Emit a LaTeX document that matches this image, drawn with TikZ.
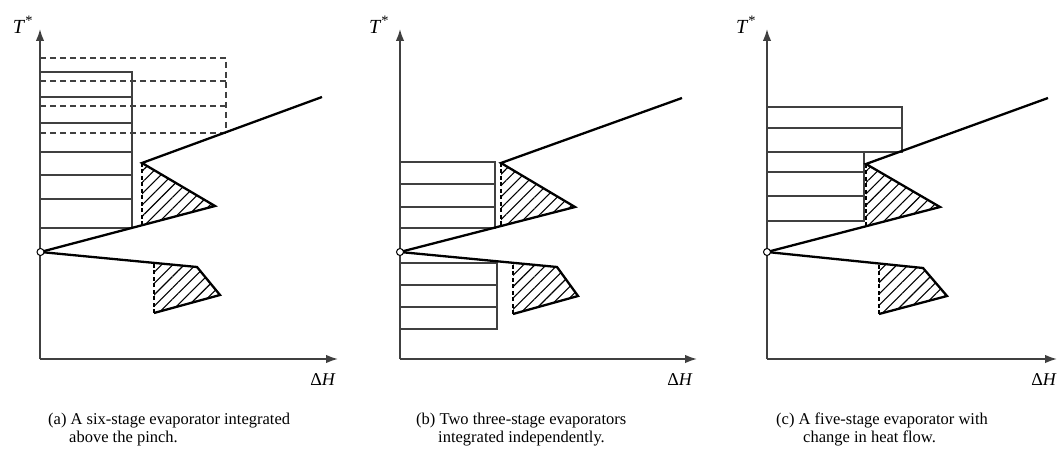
\documentclass[tikz,border=0pt]{standalone}
\usepackage{fontspec}
\setmainfont{Liberation Serif}
\usetikzlibrary{arrows.meta,patterns.meta}
\begin{document}
\begin{tikzpicture}[x=1pt,y=-1pt,
  axis/.style={line width=1.6pt, draw=black!75, -{Latex[length=12pt,width=8.5pt]}},
  stage/.style={line width=1.3pt, draw=black!75},
  dstage/.style={line width=1.3pt, draw=black!75, dash pattern=on 6pt off 4pt},
  curve/.style={line width=2.3pt, line join=miter},
  hatch/.style={pattern={Lines[angle=45,distance=8pt,line width=1.1pt]}},
  hatchedge/.style={line width=1.1pt, dash pattern=on 4pt off 2.5pt},
  pinch/.style={circle, draw, fill=white, inner sep=0pt, minimum size=7pt, line width=1pt},
  lbl/.style={font=\fontsize{18}{21}\selectfont, inner sep=0pt},
  tlbl/.style={font=\fontsize{20}{23}\selectfont, inner sep=0pt},
  captext/.style={font=\fontsize{16.5}{19}\selectfont, anchor=base west, inner sep=0pt}
]
\useasboundingbox (0,0) rectangle (1057,449);

% ---------------- panel (a)
\coordinate (oa) at (40,359);
\coordinate (pa) at (40.5,252);
\draw[axis] (oa) -- (40,29);
\draw[axis] (oa) -- (338,359);
\node[tlbl] (ta) at (23,25) {\textit{T}\textsuperscript{\Large *}};
\node[lbl] (ha) at (323,380) {Δ\textit{H}};
\draw[stage] (40,72) rectangle (132,228);
\foreach \y in {97,123,152,175,199} \draw[stage] (40,\y) -- (132,\y);
\draw[dstage] (40,58) -- (226,58) -- (226,133);
\foreach \y in {81,106,133} \draw[dstage] (40,\y) -- (226,\y);
\fill[hatch] (142,163) -- (215,206) -- (142,225.3) -- cycle;
\draw[hatchedge] (142,163) -- (142,225.3);
\draw[curve] (pa) -- (215,206) -- (142,163) -- (322,97);
\fill[hatch] (154,262.9) -- (197,267) -- (220,295) -- (154,313) -- cycle;
\draw[hatchedge] (154,313) -- (154,262.9);
\draw[curve] (pa) -- (197,267) -- (220,295) -- (154,313);
\node[pinch] (pna) at (pa) {};
\node[captext] (ca1) at (48,424) {(a) A six-stage evaporator integrated};
\node[captext] (ca2) at (69,442) {above the pinch.};

% ---------------- panel (b)
\coordinate (ob) at (400,359);
\coordinate (pb) at (400,252);
\draw[axis] (ob) -- (400,29);
\draw[axis] (ob) -- (697,359);
\node[tlbl] (tb) at (379,25) {\textit{T}\textsuperscript{\Large *}};
\node[lbl] (hb) at (680,380) {Δ\textit{H}};
\draw[stage] (400,162) rectangle (495,228);
\foreach \y in {184,207} \draw[stage] (400,\y) -- (495,\y);
\draw[stage] (400,263) rectangle (497,329);
\foreach \y in {285,307} \draw[stage] (400,\y) -- (497,\y);
\fill[hatch] (501,163) -- (575,207) -- (501,226.1) -- cycle;
\draw[hatchedge] (501,163) -- (501,226.1);
\draw[curve] (pb) -- (575,207) -- (501,163) -- (682,98);
\fill[hatch] (513,262.8) -- (557,267) -- (578,296) -- (513,314) -- cycle;
\draw[hatchedge] (513,314) -- (513,262.8);
\draw[curve] (pb) -- (557,267) -- (578,296) -- (513,314);
\node[pinch] (pnb) at (pb) {};
\node[captext] (cb1) at (416,424) {(b) Two three-stage evaporators};
\node[captext] (cb2) at (438,442) {integrated independently.};

% ---------------- panel (c)
\coordinate (oc) at (767,359);
\coordinate (pc) at (767,252);
\draw[axis] (oc) -- (767,29);
\draw[axis] (oc) -- (1057,359);
\node[tlbl] (tc) at (746,25) {\textit{T}\textsuperscript{\Large *}};
\node[lbl] (hc) at (1044,380) {Δ\textit{H}};
\draw[stage] (767,107) rectangle (902,152);
\draw[stage] (767,128) -- (902,128);
\draw[stage] (767,152) rectangle (864,221);
\foreach \y in {172,196} \draw[stage] (767,\y) -- (864,\y);
\fill[hatch] (866,164) -- (940,207) -- (866,226.8) -- cycle;
\draw[hatchedge] (866,164) -- (866,226.8);
\draw[curve] (pc) -- (940,207) -- (866,164) -- (1048,98);
\fill[hatch] (879,263.5) -- (923,268) -- (947,296) -- (879,314) -- cycle;
\draw[hatchedge] (879,314) -- (879,263.5);
\draw[curve] (pc) -- (923,268) -- (947,296) -- (879,314);
\node[pinch] (pnc) at (pc) {};
\node[captext] (cc1) at (776,424) {(c) A five-stage evaporator with};
\node[captext] (cc2) at (803,442) {change in heat flow.};
\end{tikzpicture}
\end{document}
